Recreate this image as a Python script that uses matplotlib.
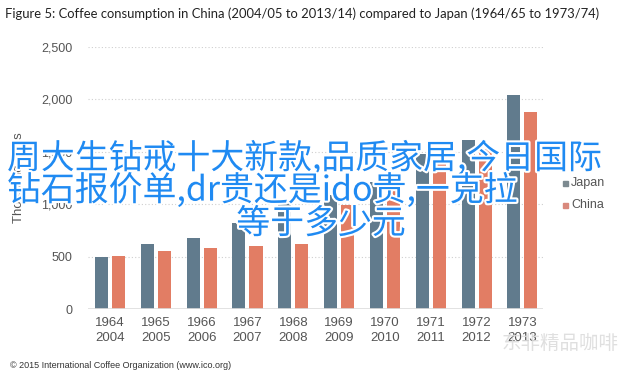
import matplotlib
matplotlib.use("Agg")
import matplotlib.pyplot as plt
import matplotlib.patheffects as pe
import numpy as np

japan_years = ["1964", "1965", "1966", "1967", "1968", "1969", "1970", "1971", "1972", "1973"]
china_years = ["2004", "2005", "2006", "2007", "2008", "2009", "2010", "2011", "2012", "2013"]
japan = [500, 620, 680, 820, 1010, 1085, 1210, 1475, 1615, 2045]
china = [510, 550, 580, 605, 625, 995, 1260, 1430, 1530, 1880]
yticks = [0, 500, 1000, 1500, 2000, 2500]
ytick_labels = ["0", "500", "1,000", "1,500", "2,000", "2,500"]

title = "Figure 5: Coffee consumption in China (2004/05 to 2013/14) compared to Japan (1964/65 to 1973/74)"
overlay_lines = ["周大生钻戒十大新款,品质家居,今日国际", "钻石报价单,dr贵还是ido贵,一克拉", "等于多少元"]
footer = "© 2015 International Coffee Organization (www.ico.org)"
watermark = "东非精品咖啡"

c_japan = "#617b8d"
c_china = "#e27d64"

W, H = 640, 377
fig = plt.figure(figsize=(6.4, 3.77), dpi=100)
fig.patch.set_facecolor("white")

ax = fig.add_axes([88 / W, 1 - 309 / H, 455 / W, 262 / H])
x = np.arange(len(japan))
bw = 0.285
ax.bar(x - 0.186, japan, width=bw, color=c_japan, zorder=3, label="Japan")
ax.bar(x + 0.186, china, width=bw, color=c_china, zorder=3, label="China")
ax.set_xlim(-0.48, 9.45)
ax.set_ylim(0, 2500)
ax.set_yticks(yticks)
ax.set_yticklabels(ytick_labels, fontfamily="Liberation Sans", fontsize=9, color="#555555")
ax.set_xticks(x)
ax.set_xticklabels([f"{a}\n{b}" for a, b in zip(japan_years, china_years)],
                   fontfamily="Liberation Sans", fontsize=9.5, color="#555555", linespacing=1.25)
ax.tick_params(axis="both", length=0)
ax.tick_params(axis="y", pad=11)
ax.tick_params(axis="x", pad=6)
for s in ax.spines.values():
    s.set_visible(False)
for yv in yticks[1:]:
    ax.axhline(yv, color="#cfcfcf", lw=0.8, ls=(0, (1, 2)), zorder=1)
ax.axhline(0, color="#dddddd", lw=1.2, zorder=4)
ax.set_ylabel("Thousand bags", fontfamily="Liberation Sans", fontsize=9.5, color="#555555", labelpad=12)

# legend
for i, (lab, col) in enumerate([("Japan", "#7d8a90"), ("China", "#d9897d")]):
    yy = 1 - (183 + 22 * i) / H
    fig.patches.append(plt.Rectangle((563 / W, yy - 2.5 / H), 5 / W, 5 / H,
                                     transform=fig.transFigure, color=col, figure=fig))
    fig.text(571 / W, yy, lab, fontfamily="Liberation Sans", fontsize=9, color="#555555", va="center")

fig.text(5 / W, 1 - 14 / H, title, fontfamily="Lato", fontsize=9.35, color="#222222", va="center")
fig.text(10 / W, 1 - 366 / H, footer, fontfamily="Liberation Sans", fontsize=6.5, color="#333333", va="center")
fig.text(560 / W, 1 - 343 / H, watermark, fontfamily="Noto Sans CJK SC", fontsize=14, color="#dcdcdc",
         va="center", ha="center", alpha=0.9)

stroke = [pe.withStroke(linewidth=3, foreground="white")]
fam = ["Noto Sans CJK SC", "DejaVu Sans"]
fig.text(7 / W, 1 - 159 / H, overlay_lines[0], fontfamily=fam, fontsize=24.4, color="#1f8af2",
         va="center", ha="left", path_effects=stroke)
fig.text(7 / W, 1 - 191 / H, overlay_lines[1], fontfamily=fam, fontsize=24.4, color="#1f8af2",
         va="center", ha="left", path_effects=stroke)
fig.text(321 / W, 1 - 224 / H, overlay_lines[2], fontfamily=fam, fontsize=24.4, color="#1f8af2",
         va="center", ha="center", path_effects=stroke)

fig.savefig("out.png", dpi=100)
